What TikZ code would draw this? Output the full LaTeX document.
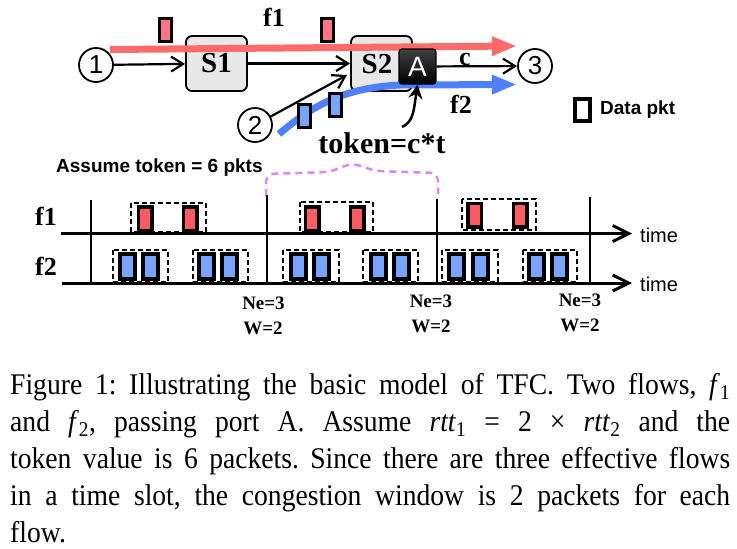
\documentclass[tikz,border=0pt]{standalone}
\usepackage{fontspec}
\setmainfont{Liberation Serif}
\newfontfamily\sans{Liberation Sans}
\newfontfamily\capfont{Liberation Serif}[FakeStretch=0.92]
\usetikzlibrary{arrows.meta}
\definecolor{redln}{HTML}{FF6B6B}
\definecolor{blueln}{HTML}{4F80FF}
\definecolor{redpk}{HTML}{FF5A64}
\definecolor{redtop}{HTML}{FF7585}
\definecolor{bluepk}{HTML}{78A4FF}
\definecolor{boxgray}{HTML}{E8E8E8}
\definecolor{purp}{HTML}{D98AF2}
\tikzset{
  circ/.style={circle,draw,line width=1.8pt,minimum size=34pt,inner sep=0pt,fill=white,font=\sans\fontsize{26}{26}\selectfont},
  sw/.style={draw,line width=1.8pt,rounded corners=6pt,fill=boxgray,minimum width=61pt,minimum height=55pt,inner sep=0pt,font=\bfseries\fontsize{29}{29}\selectfont},
  conn/.style={line width=2.2pt,-{Straight Barb[length=12pt,width=15pt]}},
  tpkt/.style={draw,line width=3pt,minimum width=12pt,minimum height=23pt,inner sep=0pt},
  rpkt/.style={draw,line width=3.5pt,fill=redpk,minimum width=13.5pt,minimum height=23.5pt,inner sep=0pt},
  bpkt/.style={draw,line width=4pt,fill=bluepk,minimum width=15pt,minimum height=25pt,inner sep=0pt},
  dbox/.style={draw,line width=1.3pt,dash pattern=on 5pt off 3pt},
  taxis/.style={line width=3pt,-{Straight Barb[length=16pt,width=16pt]}},
  tickln/.style={line width=2.5pt},
  lab/.style={font=\bfseries\fontsize{26}{26}\selectfont,inner sep=0pt},
  nw/.style={font=\bfseries\fontsize{19}{19}\selectfont,inner sep=0pt},
  st/.style={font=\sans\fontsize{20}{20}\selectfont,inner sep=0pt},
  sb/.style={font=\sans\bfseries\fontsize{19}{19}\selectfont,inner sep=0pt}
}
\begin{document}
\begin{tikzpicture}[x=1pt,y=-1pt]
\useasboundingbox (0,0) rectangle (737,549);
% switches
\node[sw] (s1) at (216.5,63.5) {S1};
\node[sw] (s2) at (381.5,63.5) {};
\node[font=\bfseries\fontsize{29}{29}\selectfont,inner sep=0pt] (s2t) at (377,64) {S2};
% flow lines
\coordinate (r0) at (110,49.5);
\coordinate (r1) at (517,46);
\draw[redln,line width=7pt,-{Triangle[length=25pt,width=18pt]}] (r0) -- (r1);
\coordinate (b0) at (279,134);
\coordinate (b1) at (400,85);
\coordinate (b2) at (517,84.5);
\draw[blueln,line width=7pt,-{Triangle[length=25pt,width=18pt]}] (b0) .. controls (310,108) and (340,88) .. (b1) -- (b2);
% port A
\node[draw=black,line width=1.2pt,top color=black!75,bottom color=black,rounded corners=3pt,minimum width=37pt,minimum height=35pt,inner sep=0pt,text=white,font=\sans\fontsize{28}{28}\selectfont] (A) at (417.5,66.5) {A};
% hosts
\node[circ] (c1) at (96,65) {1};
\node[circ] (c2) at (255,125) {2};
\node[circ] (c3) at (535,66) {3};
% connectors
\coordinate (in2) at (347,75);
\draw[conn] (c1) -- (s1);
\draw[conn] (s1) -- (s2);
\draw[conn] (c2) -- (in2);
\draw[conn] (A) -- (c3);
% packets on links
\node[tpkt,fill=redtop] (p1) at (165,30) {};
\node[tpkt,fill=redtop] (p2) at (327.5,30) {};
\node[tpkt,fill=bluepk] (bp1) at (304.5,115.5) {};
\node[tpkt,fill=bluepk] (bp2) at (335.5,105) {};
% labels
\node[lab,anchor=base] (f1t) at (274,26) {f1};
\node[lab,anchor=base] (f2t) at (461,113) {f2};
\node[lab,anchor=base] (ct) at (465,65) {c};
\node[font=\bfseries\fontsize{30}{30}\selectfont,inner sep=0pt,anchor=base] (tok) at (382,153) {token=c*t};
\coordinate (tk0) at (402,127);
\draw[line width=2.5pt,-{Stealth[length=14pt,width=14pt]}] (tk0) .. controls (414,122) and (414,108) .. (A.south);
% legend
\node[draw,line width=4pt,fill=white,minimum width=15pt,minimum height=22pt,inner sep=0pt] (lg) at (582.5,110) {};
\node[sb,anchor=west] (lgt) at (600,110) {Data pkt};
% timeline
\node[sb,anchor=base west] (assume) at (56,172) {Assume token = 6 pkts};
\draw[purp,line width=2.5pt,dash pattern=on 7pt off 5pt,rounded corners=8pt] (266,196) -- (266,174) -- (330,172) -- (352,163) -- (375,171) -- (438,173) -- (438,194);
% dashed groups f1
\draw[dbox] (131,203) rectangle (206,232);
\draw[dbox] (300,202) rectangle (373,232);
\draw[dbox] (462,199) rectangle (536,230);
% dashed groups f2
\draw[dbox] (113,250) rectangle (168,282);
\draw[dbox] (193,250) rectangle (248,282);
\draw[dbox] (283,250) rectangle (339,282);
\draw[dbox] (363,250) rectangle (418,282);
\draw[dbox] (442,250) rectangle (498,282);
\draw[dbox] (523,250) rectangle (577,282);
% axes
\coordinate (a1s) at (61,233.5);
\coordinate (a1e) at (632,233.5);
\coordinate (a2s) at (62,283);
\coordinate (a2e) at (632,283);
\draw[taxis] (a1s) -- (a1e);
\draw[taxis] (a2s) -- (a2e);
\node[st,anchor=west] (tm1) at (640,235) {time};
\node[st,anchor=west] (tm2) at (640,284) {time};
\draw[tickln] (91,200) -- (91,285);
\draw[tickln] (267,195) -- (267,285);
\draw[tickln] (437,199) -- (437,283);
\draw[tickln] (590,197) -- (590,283);
\node[lab,anchor=base] (lf1) at (46,225) {f1};
\node[lab,anchor=base] (lf2) at (46,275) {f2};
% f1 packets
\node[rpkt] (q1) at (145,218.5) {};
\node[rpkt] (q2) at (190,218.5) {};
\node[rpkt] (q3) at (312,218.5) {};
\node[rpkt] (q4) at (357,218.5) {};
\node[rpkt] (q5) at (474.5,215) {};
\node[rpkt] (q6) at (520,215) {};
% f2 packets
\foreach \x [count=\i] in {127,150,206.5,229.5,298,321.5,378,401,456.5,480.5,536,559.5}
  \node[bpkt] (w\i) at (\x,266.5) {};
% Ne / W
\node[nw,anchor=base] (n1) at (263.5,309) {Ne=3};
\node[nw,anchor=base] (m1) at (263,334) {W=2};
\node[nw,anchor=base] (n2) at (431,307) {Ne=3};
\node[nw,anchor=base] (m2) at (431,332) {W=2};
\node[nw,anchor=base] (n3) at (580,306) {Ne=3};
\node[nw,anchor=base] (m3) at (580,331) {W=2};
% caption
\node[anchor=north west,inner sep=0pt,text width=720pt,align=justify,font=\capfont\fontsize{30}{37}\selectfont] (cap) at (10,373) {\frenchspacing Figure 1: Illustrating the basic model of TFC. Two flows, \textit{f}\textsubscript{1}\linebreak and \textit{f}\textsubscript{2}, passing port A. Assume \textit{rtt}\textsubscript{1}~=~2~×~\textit{rtt}\textsubscript{2} and the\linebreak token value is 6 packets. Since there are three effective flows\linebreak in a time slot, the congestion window is 2 packets for each\linebreak flow.};
\end{tikzpicture}
\end{document}
